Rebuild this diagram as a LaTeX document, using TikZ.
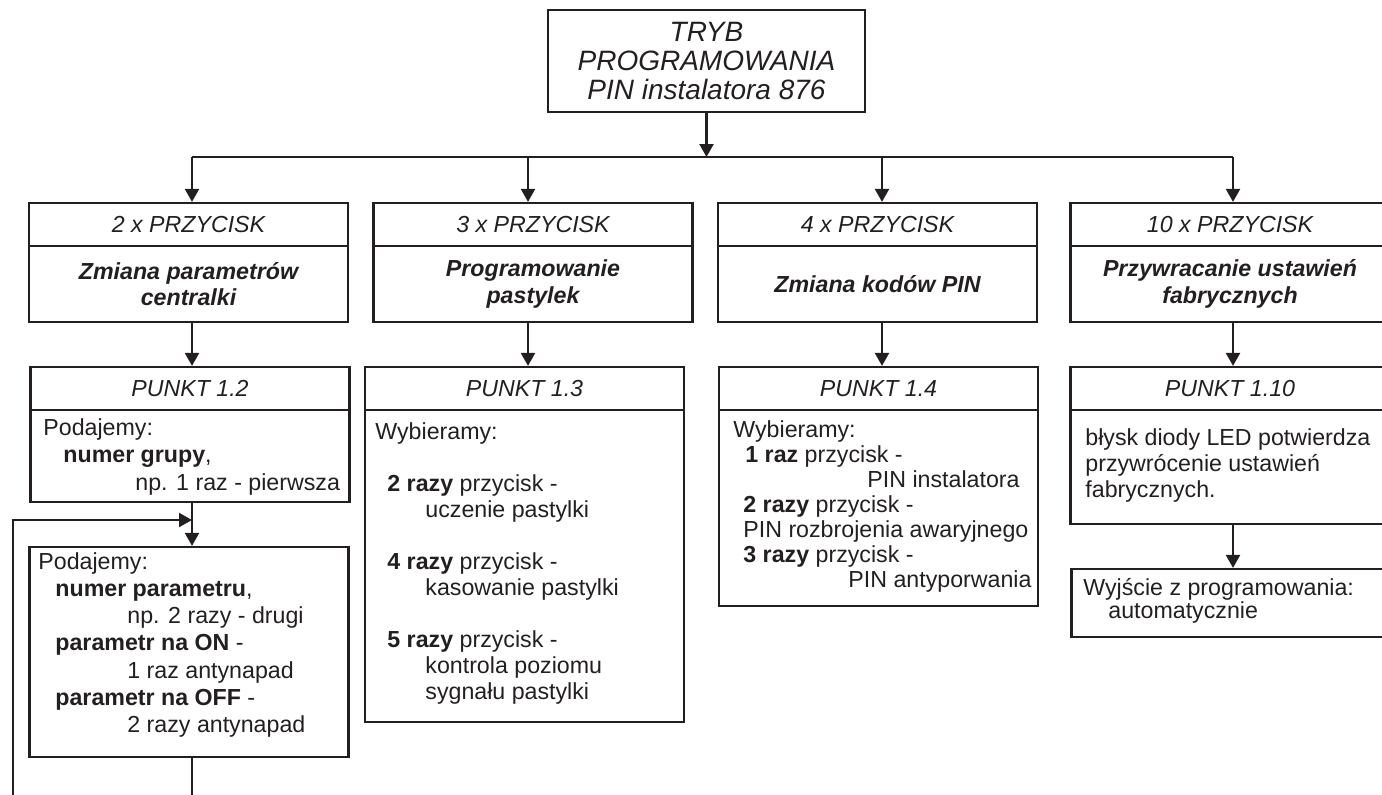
\documentclass[tikz,border=0pt]{standalone}
\usepackage{fontspec}
\setmainfont{Liberation Sans}
\usetikzlibrary{arrows.meta}

\begin{document}
\begin{tikzpicture}[x=0.5pt,y=-0.5pt,
  box/.style={draw=ink,line width=1.1pt,rectangle,inner sep=0pt,text=ink,minimum width=159.5pt},
  head/.style={box,minimum height=21.5pt,font=\fontsize{11.6}{13}\selectfont\itshape},
  titl/.style={box,minimum height=38pt,align=center,font=\fontsize{11.6}{13.4}\selectfont\bfseries\itshape},
  txt/.style={anchor=north west,inner sep=0pt,align=left,text=ink},
  arr/.style={draw=ink,line width=1.1pt,-{Triangle[width=7pt,length=6.5pt]}},
  wire/.style={draw=ink,line width=1.1pt}]
\definecolor{ink}{RGB}{35,31,32}

\useasboundingbox (0,0) rectangle (1382,794);
\clip (0,0) rectangle (1382,794);

% Main box
\node[box,minimum width=158.5pt,minimum height=51pt,align=center,
  font=\fontsize{14}{14.3}\selectfont\itshape] (tryb) at (706.5,61)
  {TRYB\\PROGRAMOWANIA\\PIN instalatora 876};

% Branches
\coordinate (a1) at (192,157);
\coordinate (a2) at (528,157);
\coordinate (a3) at (882,157);
\coordinate (a4) at (1233,157);

% Key presses
\node[head] (h1) at (188.5,224.5) {2 x PRZYCISK};
\node[titl] (t1) at (188.5,284) {Zmiana parametrów\\centralki};
\node[head] (h2) at (533,224.5) {3 x PRZYCISK};
\node[titl] (t2) at (533,284) {Programowanie\\pastylek};
\node[head] (h3) at (877.5,224.5) {4 x PRZYCISK};
\node[titl] (t3) at (877.5,284) {Zmiana kodów PIN};
\node[head] (h4) at (1230,224.5) {10 x PRZYCISK};
\node[titl] (t4) at (1230,284) {Przywracanie ustawień\\fabrycznych};

% Points
\node[head] (pk1) at (190,388.5) {PUNKT 1.2};
\node[box,minimum height=46pt] (pb1) at (190,456) {};
\node[head] (pk2) at (524.5,388.5) {PUNKT 1.3};
\node[box,minimum height=156pt] (pb2) at (524.5,566) {};
\node[head] (pk3) at (878.5,388.5) {PUNKT 1.4};
\node[box,minimum height=98pt] (pb3) at (878.5,508) {};
\node[head] (pk4) at (1230,388.5) {PUNKT 1.10};
\node[box,minimum height=57pt] (pb4) at (1230,467) {};

% Follow-up boxes
\node[box,minimum height=105pt] (b2) at (189,652) {};
\node[box,minimum height=34pt] (ex) at (1231,603) {};

% Box texts
\node[txt,font=\fontsize{11.6}{13.75}\selectfont] (tx1) at (43,418)
  {Podajemy:\\
   \hspace*{10pt}\textbf{numer grupy},\\
   \hspace*{46pt}np. 1 raz - pierwsza};
\node[txt,font=\fontsize{11.6}{13}\selectfont] (tx2) at (375,422)
  {Wybieramy:\\[13pt]
   \hspace*{6pt}\textbf{2 razy} przycisk -\\
   \hspace*{25pt}uczenie pastylki\\[13pt]
   \hspace*{6pt}\textbf{4 razy} przycisk -\\
   \hspace*{25pt}kasowanie pastylki\\[13pt]
   \hspace*{6pt}\textbf{5 razy} przycisk -\\
   \hspace*{25pt}kontrola poziomu\\
   \hspace*{25pt}sygnału pastylki};
\node[txt,font=\fontsize{11.6}{12.5}\selectfont] (tx3) at (733,420)
  {Wybieramy:\\
   \hspace*{6pt}\textbf{1 raz} przycisk -\\
   \hspace*{67pt}PIN instalatora\\
   \hspace*{5pt}\textbf{2 razy} przycisk -\\
   \hspace*{5pt}PIN rozbrojenia awaryjnego\\
   \hspace*{5pt}\textbf{3 razy} przycisk -\\
   \hspace*{57.5pt}PIN antyporwania};
\node[txt,font=\fontsize{11.6}{13}\selectfont] (tx4) at (1085,428)
  {błysk diody LED potwierdza\\przywrócenie ustawień\\fabrycznych.};
\node[txt,font=\fontsize{11.6}{13.6}\selectfont] (tx5) at (38,552)
  {Podajemy:\\
   \hspace*{8.5pt}\textbf{numer parametru},\\
   \hspace*{44.5pt}np. 2 razy - drugi\\
   \hspace*{8.5pt}\textbf{parametr na ON} -\\
   \hspace*{44.5pt}1 raz antynapad\\
   \hspace*{8.5pt}\textbf{parametr na OFF} -\\
   \hspace*{44.5pt}2 razy antynapad};
\node[txt,font=\fontsize{11.6}{11.75}\selectfont] (tx6) at (1083,578)
  {Wyjście z programowania:\\
   \hspace*{12.5pt}automatycznie};

% Arrows
\draw[arr] (tryb.south) -- (tryb.south |- a1);
\draw[wire] (a1) -- (a4);
\foreach \i in {1,...,4} {
  \draw[arr] (a\i) -- (a\i |- h\i.north);
  \draw[arr] (a\i |- t\i.south) -- (a\i |- pk\i.north);
}
\draw[arr] (a1 |- pb1.south) -- (a1 |- b2.north);
\draw[arr] (a4 |- pb4.south) -- (a4 |- ex.north);

% Loop back
\coordinate (lpb) at (13,800);
\coordinate (lpt) at (13,520);
\draw[wire] (a1 |- b2.south) -- (a1 |- lpb);
\draw[arr] (lpb) -- (lpt) -- (lpt -| a1);
\end{tikzpicture}
\end{document}
